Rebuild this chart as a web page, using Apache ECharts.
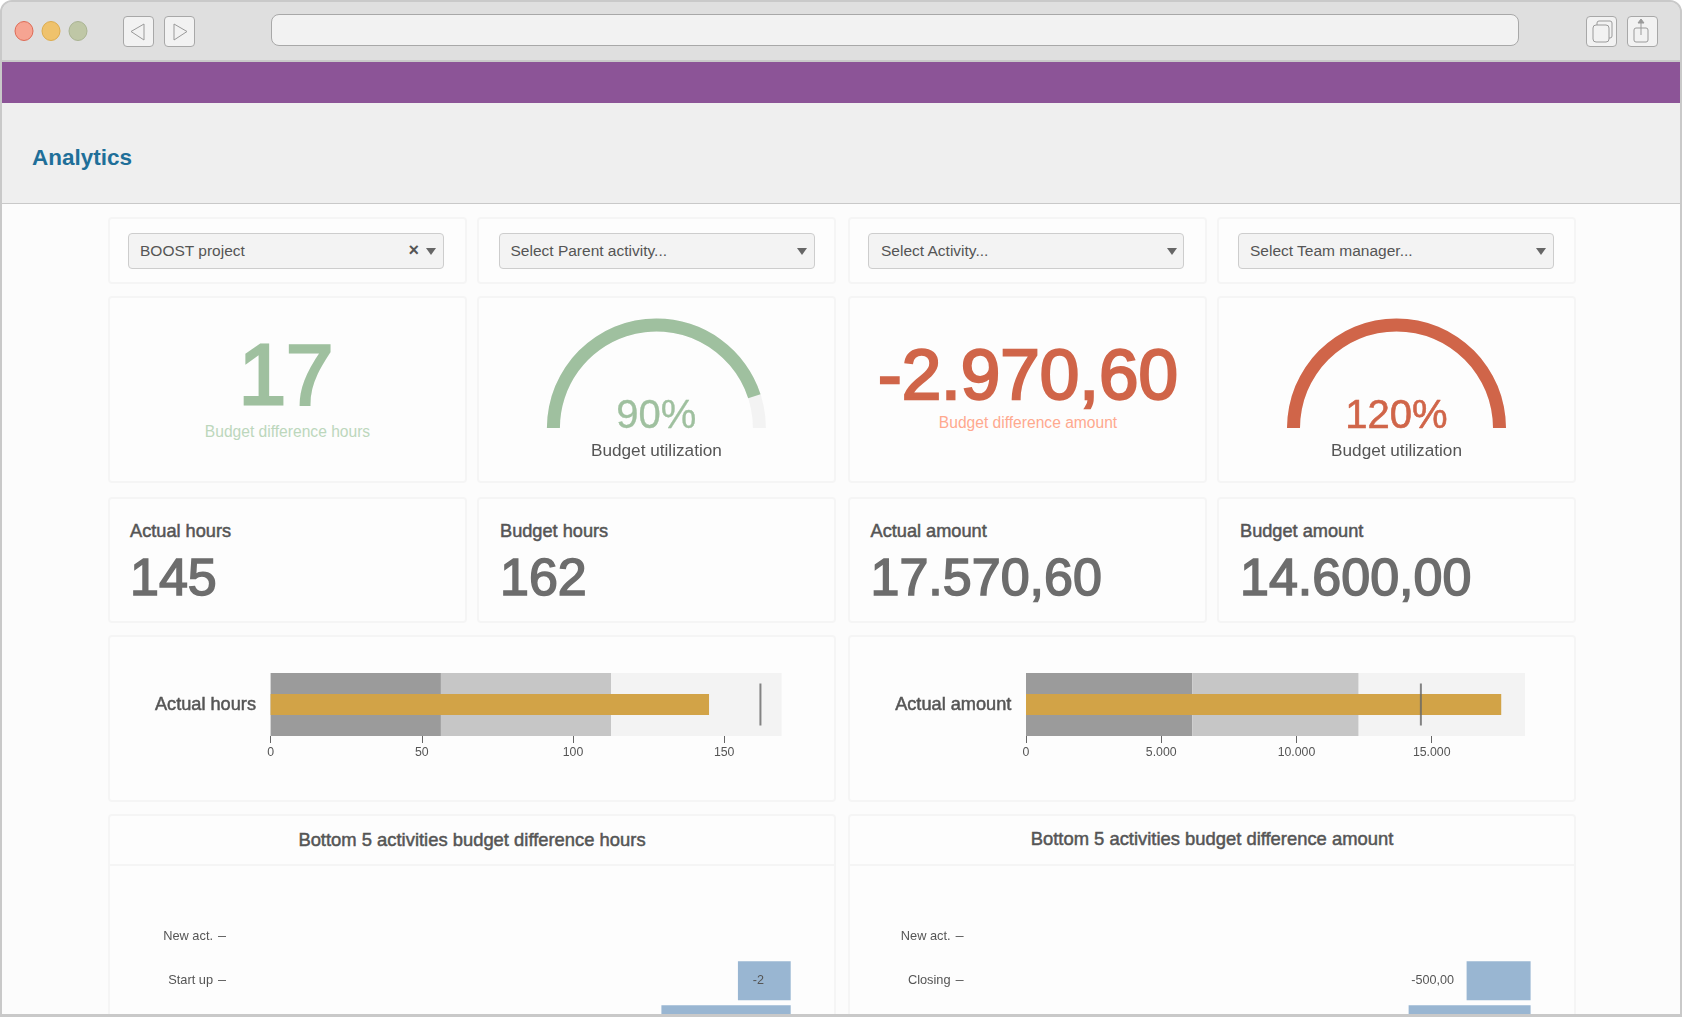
<!DOCTYPE html>
<html>
<head>
<meta charset="utf-8">
<title>Analytics</title>
<script src="https://cdn.jsdelivr.net/npm/echarts@6/dist/echarts.min.js"></script>
<style>
html, body { margin: 0; padding: 0; width: 1682px; height: 1017px; overflow: hidden; background: #fff;
  font-family: "Liberation Sans", Arial, sans-serif; color: #555; }
#clip { position: absolute; left: 2px; top: 2px; width: 1678px; height: 1012px; overflow: hidden;
  border-radius: 10px 10px 0 0; }
#page { position: absolute; left: -2px; top: -2px; width: 1682px; height: 1017px; background: #fcfcfc; }
#frame { position: absolute; left: 0; top: 0; width: 1682px; height: 1017px; box-sizing: border-box;
  border: 2px solid #c9c9c9; border-bottom-width: 3px; border-radius: 12px 12px 0 0; pointer-events: none; }
.box { position: absolute; box-sizing: border-box; }
.card { background: #fdfdfd; border: 2px solid #f5f5f5; border-radius: 4px; }
.select { background: #f3f3f3; border: 1px solid #cdcdcd; border-radius: 4px; }
.btn { border: 1px solid #a8a8a8; border-radius: 4px; background: #f2f2f2; }
.txt { position: absolute; white-space: nowrap; }
.caret { position: absolute; width: 0; height: 0; border-left: 5.5px solid transparent;
  border-right: 5.5px solid transparent; border-top: 7px solid #666; }
svg { position: absolute; }
</style>
</head>
<body>
<div id="clip"><div id="page"></div></div>
<div id="frame"></div>
<script>
// data
var selectTexts = ['BOOST project', 'Select Parent activity...', 'Select Activity...', 'Select Team manager...'];
var kpiLabels = ['Actual hours', 'Budget hours', 'Actual amount', 'Budget amount'];
var kpiValues = ['145', '162', '17.570,60', '14.600,00'];
var diffHours = '17';
var diffAmount = '-2.970,60';
var gaugeValues = [90, 120];

var hoursBands = [56.33, 56.33, 56.34];
var hoursActual = [145];
var hoursBudget = [162];
var amountBands = [6150, 6150, 6150];
var amountActual = [17570.6];
var amountBudget = [14600];

// third category name is below the fold in the source
var hoursCats = ['New act.', 'Start up', ''];
var hoursDiff = [null, -2, -4.9];
var amountCats = ['New act.', 'Closing', ''];
var amountDiff = [null, -500, -953];

var GREEN = '#9fc09f', RED = '#d06549', GOLD = '#d2a347', BLUE = '#99b6d2', GREY = '#6d6d6d';
var colX = [108, 477, 848, 1217];
var colW = 359;

var page = document.getElementById('page');

function box(cls, x, y, w, h, bg) {
  var d = document.createElement('div');
  d.className = 'box ' + cls;
  d.style.cssText += 'left:' + x + 'px;top:' + y + 'px;width:' + w + 'px;height:' + h + 'px;' + (bg ? 'background:' + bg + ';' : '');
  page.appendChild(d);
  return d;
}

// cy is the vertical middle of the text line, align is left or center
// stroke thickens the regular face, the source font is a medium weight
function text(s, x, cy, size, color, stroke, align) {
  var d = document.createElement('div');
  d.className = 'txt';
  d.textContent = s;
  d.style.cssText = 'top:' + (cy - size) + 'px;line-height:' + (size * 2) + 'px;font-size:' + size + 'px;color:' + color + ';' +
    (stroke ? '-webkit-text-stroke:' + stroke + 'px ' + color + ';' : '') +
    (align == 'center' ? 'left:' + (x - 400) + 'px;width:800px;text-align:center;' : 'left:' + x + 'px;');
  page.appendChild(d);
  return d;
}

function svg(x, y, w, h, inner) {
  var d = document.createElement('div');
  d.innerHTML = '<svg xmlns="http://www.w3.org/2000/svg" width="' + w + '" height="' + h + '" style="left:' + x + 'px;top:' + y + 'px" fill="none" stroke="#9a9a9a" stroke-width="1">' + inner + '</svg>';
  page.appendChild(d.firstChild);
}

// browser chrome
box('', 0, 0, 1682, 60, '#dfdfdf');
box('', 0, 60, 1682, 2, '#c9c9c9');
box('', 0, 62, 1682, 41, '#8c5497');
box('', 0, 103, 1682, 100, '#efefef');
box('', 0, 203, 1682, 1, '#c9c9c9');
svg(14, 20, 75, 22, '<ellipse cx="10" cy="11" rx="9" ry="9.5" fill="#f6a492" stroke="#dd6a55"/>' +
  '<ellipse cx="37" cy="11" rx="9" ry="9.5" fill="#efc26c" stroke="#dcab4d"/>' +
  '<ellipse cx="64" cy="11" rx="9" ry="9.5" fill="#bfc7a6" stroke="#a9b392"/>');
box('btn', 123, 16, 31, 31);
box('btn', 163.5, 16, 31, 31);
box('btn', 271, 14, 1248, 31.5).style.borderRadius = '8px';
box('btn', 1586, 16, 31, 31);
box('btn', 1627, 16, 31, 31);
svg(123, 16, 72, 31, '<path d="M21 8 L8 15.5 L21 24 Z"/><path d="M51 8 L64 15.5 L51 24 Z"/>');
svg(1586, 16, 72, 31, '<rect x="7" y="9" width="16" height="17" rx="3"/><path d="M11 9 V7 Q11 5 13 5 H24 Q26 5 26 7 V20 Q26 22 24 22 H23"/>' +
  '<rect x="48" y="12" width="14" height="14" rx="2"/><path d="M55 19 V4"/><path d="M52 7 L55 3 L58 7 Z" fill="#9a9a9a"/>');
text('Analytics', 32, 157, 22.5, '#1f6f99').style.fontWeight = 'bold';

// filter row
var selectX = [128, 498.5, 868, 1238];
var textX = [140, 510.5, 881, 1250];
var caretX = [431, 802, 1172, 1541];
for (var i = 0; i < 4; i++) {
  box('card', colX[i], 217, colW, 67);
  box('select', selectX[i], 233, 316, 36);
  text(selectTexts[i], textX[i], 250, 15.5, '#555');
  var c = document.createElement('div');
  c.className = 'caret';
  c.style.left = (caretX[i] - 5.5) + 'px';
  c.style.top = '247.5px';
  page.appendChild(c);
}
text('\u00d7', 408.5, 250, 18, '#555').style.fontWeight = 'bold';

// kpi rows
for (i = 0; i < 4; i++) {
  box('card', colX[i], 296, colW, 187);
  box('card', colX[i], 497, colW, 126);
  var left = [130, 500, 870.5, 1240][i];
  text(kpiLabels[i], left, 531, 18.2, '#555', 0.5);
  text(kpiValues[i], left, 577, 52, GREY, 1.6);
}
text(diffHours, 286, 375, 85, GREEN, 3, 'center');
text('Budget difference hours', 287.5, 432, 15.6, '#bcd7bc', 0, 'center');
text(diffAmount, 1028, 375, 71, RED, 2.4, 'center');
text('Budget difference amount', 1028, 423, 15.6, '#ffa98f', 0, 'center');

// bullet and bottom cards
box('card', 108, 635, 728, 167);
box('card', 848, 635, 728, 167);
box('card', 108, 814, 728, 260);
box('card', 848, 814, 728, 260);
box('', 108, 864, 728, 2, '#f5f5f5');
box('', 848, 864, 728, 2, '#f5f5f5');
text('Bottom 5 activities budget difference hours', 472, 840, 18.4, '#555', 0.5, 'center');
text('Bottom 5 activities budget difference amount', 1212, 839, 18.4, '#555', 0.5, 'center');

function chart(x, y, w, h, option) {
  var d = box('', x, y, w, h);
  var c = echarts.init(d);
  c.setOption(option);
  return c;
}

function gaugeOption(value, color, cx, cy, border) {
  return {
    series: [{
      type: 'gauge',
      center: [cx, cy],
      radius: 109.5,
      startAngle: 180,
      endAngle: 0,
      min: 0,
      max: 100,
      axisLine: { lineStyle: { width: 13, color: [[1, '#f3f3f3']] } },
      progress: { show: true, width: 13, itemStyle: { color: color } },
      pointer: { show: false },
      axisTick: { show: false },
      splitLine: { show: false },
      axisLabel: { show: false },
      title: { offsetCenter: [0, 23], fontSize: 17.2, color: '#555', fontFamily: 'Liberation Sans' },
      detail: { offsetCenter: [0, -11], fontSize: 40, fontWeight: 'normal', color: color, fontFamily: 'Liberation Sans',
        textBorderColor: color, textBorderWidth: border, formatter: '{value}%', valueAnimation: false },
      data: [{ value: value, name: 'Budget utilization' }]
    }]
  };
}

function thousands(v) {
  return String(v).replace(/\B(?=(\d{3})+$)/g, '.');
}

function bulletOption(name, bands, actual, budget, max, interval, left, width) {
  var bandColors = ['#9b9b9b', '#c6c6c6', '#f3f3f3'];
  var series = bands.map(function (b, i) {
    return { type: 'bar', stack: 'range', yAxisIndex: 0, barWidth: '100%', data: [b],
      itemStyle: { color: bandColors[i] }, silent: true };
  });
  series.push({ type: 'bar', yAxisIndex: 1, barWidth: 21, data: actual, z: 3, itemStyle: { color: GOLD } });
  series.push({ type: 'scatter', yAxisIndex: 1, symbol: 'rect', symbolSize: [2, 42], z: 4,
    data: [[budget[0], 0]], itemStyle: { color: '#666' } });
  return {
    animation: false,
    grid: { left: left, top: 38, width: width, height: 63 },
    xAxis: { type: 'value', min: 0, max: max, interval: interval, splitLine: { show: false },
      axisLine: { show: false }, axisTick: { show: true, length: 7, lineStyle: { color: '#666' } },
      axisLabel: { margin: 11, fontSize: 12.3, color: '#555', fontFamily: 'Liberation Sans', formatter: thousands,
        showMaxLabel: false } },
    yAxis: [
      { type: 'category', data: [name], axisLine: { show: false }, axisTick: { show: false },
        axisLabel: { margin: 14.6, fontSize: 18.2, color: '#555', textBorderColor: '#555', textBorderWidth: 0.5,
          padding: [8, 0, 0, 0], fontFamily: 'Liberation Sans' } },
      { type: 'category', data: [name], show: false }
    ],
    series: series
  };
}

function barOption(cats, vals, min, left, width, labelFmt, label) {
  return {
    animation: false,
    grid: { left: left, top: 44.7, width: width, height: 132 },
    xAxis: { type: 'value', min: min, max: 0, show: false },
    yAxis: { type: 'category', inverse: true, data: cats,
      axisLine: { show: false, onZero: false },
      axisTick: { show: true, length: 8, alignWithLabel: true, lineStyle: { color: '#666' } },
      axisLabel: { margin: 13, fontSize: 12.8, color: '#555', fontFamily: 'Liberation Sans' } },
    series: [{
      type: 'bar',
      barWidth: 39,
      data: vals.map(function (v) { return { value: v, label: label }; }),
      itemStyle: { color: BLUE },
      label: { show: true, fontSize: 12.6, color: '#555', fontFamily: 'Liberation Sans', formatter: function (p) { return labelFmt(p.value); } }
    }]
  };
}

chart(colX[1], 296, colW, 187, gaugeOption(gaugeValues[0], GREEN, 656.4 - colX[1], 132, 0.3));
chart(colX[3], 296, colW, 187, gaugeOption(gaugeValues[1], RED, 1396.5 - colX[3], 132, 0.6));

chart(108, 635, 728, 167, bulletOption('Actual hours', hoursBands, hoursActual, hoursBudget, 169, 50, 162.6, 511));
chart(848, 635, 728, 167, bulletOption('Actual amount', amountBands, amountActual, amountBudget, 18450, 5000, 178, 499));

// taller than the window on purpose, #clip cuts the rest off
chart(108, 870, 728, 200, barOption(hoursCats, hoursDiff, -21.4, 118, 564.7,
  function (v) { return String(Math.round(v)); },
  { position: 'inside', offset: [-6, 0] }));
chart(848, 870, 728, 200, barOption(amountCats, amountDiff, -4430, 115.6, 567,
  function (v) { return v.toFixed(2).replace('.', ','); },
  { position: 'left', distance: 12.7 }));
</script>
</body>
</html>
